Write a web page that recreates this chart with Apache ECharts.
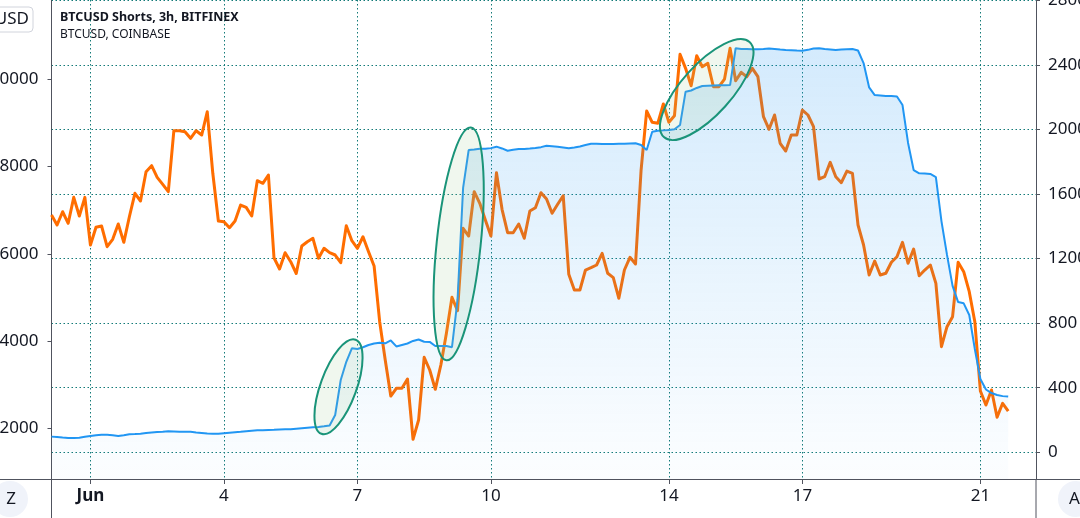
<!DOCTYPE html>
<html>
<head>
<meta charset="utf-8">
<script src="https://cdn.jsdelivr.net/npm/echarts@6/dist/echarts.min.js"></script>
<style>
  html, body { margin: 0; padding: 0; background: #fff; }
  #chart { width: 1080px; height: 518px; }
</style>
</head>
<body>
<div id="chart"></div>
<script>
// 3h bars, first bar 2021-05-31 03:00 UTC
const START_TIME = Date.UTC(2021, 4, 31, 3);
const STEP = 3 * 3600 * 1000;
const BAR_COUNT = 178; // a few empty bars after the last close, like the TradingView right margin

// x ticks
const tickDates = ['2021-06-01 00:00', '2021-06-04 00:00', '2021-06-07 00:00', '2021-06-10 00:00',
                   '2021-06-14 00:00', '2021-06-17 00:00', '2021-06-21 00:00'];
const tickLabels = ['Jun', '4', '7', '10', '14', '17', '21'];

// y ticks
const priceTicks = [32000, 34000, 36000, 38000, 40000];
const shortsTicks = [0, 400, 800, 1200, 1600, 2000, 2400, 2800];

// BTCUSD, COINBASE (3h closes)
const btcPrice = [
  36890, 36660, 36965, 36700, 37295, 36867, 37295, 36202, 36608, 36638,
  36163, 36333, 36683, 36264, 36851, 37387, 37211, 37882, 38020, 37754,
  37593, 37424, 38822, 38822, 38799, 38648, 38822, 38723, 39257, 37846,
  36752, 36736, 36599, 36752, 37119, 37066, 36867, 37676, 37616, 37807,
  35911, 35652, 36026, 35819, 35549, 36179, 36278, 36356, 35897, 36127,
  36026, 35973, 35797, 36645, 36301, 36127, 36392, 36049, 35721, 34444,
  33566, 32741, 32918, 32918, 33131, 31749, 32191, 33628, 33337, 32895,
  33452, 34178, 35003, 34696, 36585, 36408, 37424, 37158, 36775, 36408,
  37859, 37020, 36484, 36484, 36683, 36356, 36981, 37057, 37401, 37256,
  36929, 37135, 37332, 35531, 35171, 35171, 35629, 35682, 35744, 36012,
  35554, 35453, 34981, 35629, 35920, 35767, 37921, 39273, 39014, 38992,
  39434, 39014, 39166, 40573, 40252, 39853, 40541, 40289, 40367, 39830,
  39830, 40007, 40711, 39968, 40160, 40060, 40252, 40060, 39143, 38854,
  39182, 38533, 38357, 38723, 38723, 39296, 39182, 38914, 37715, 37768,
  38098, 37768, 37630, 37898, 37846, 36661, 36202, 35515, 35835, 35515,
  35554, 35806, 35934, 36264, 35783, 36110, 35499, 35629, 35744, 35324,
  33871, 34330, 34559, 35806, 35590, 35132, 34444, 32856, 32535, 32879,
  32253, 32574, 32397
];

// BTCUSD Shorts, 3h, BITFINEX
const btcShorts = [
  97, 94, 91, 89, 89, 90, 96, 101, 106, 109,
  108, 105, 101, 106, 112, 113, 115, 119, 122, 125,
  127, 130, 129, 128, 128, 127, 123, 120, 116, 115,
  115, 118, 121, 124, 127, 131, 134, 136, 137, 138,
  139, 141, 142, 143, 146, 149, 152, 155, 157, 161,
  166, 231, 448, 561, 644, 640, 651, 665, 674, 679,
  675, 693, 656, 665, 674, 690, 699, 685, 684, 659,
  659, 659, 651, 944, 1638, 1873, 1876, 1881, 1881, 1885,
  1894, 1883, 1869, 1875, 1880, 1880, 1882, 1886, 1891, 1900,
  1897, 1894, 1889, 1884, 1889, 1895, 1904, 1912, 1912, 1911,
  1911, 1911, 1912, 1912, 1914, 1915, 1904, 1873, 1987, 1993,
  1995, 1997, 2002, 2028, 2235, 2242, 2258, 2270, 2272, 2273,
  2274, 2275, 2276, 2504, 2500, 2499, 2498, 2498, 2499, 2502,
  2500, 2496, 2493, 2492, 2490, 2489, 2494, 2502, 2504, 2499,
  2496, 2493, 2496, 2498, 2499, 2490, 2412, 2261, 2214, 2211,
  2208, 2208, 2205, 2152, 1917, 1749, 1729, 1727, 1725, 1706,
  1433, 1223, 1031, 931, 923, 851, 640, 454, 389, 367,
  355, 348, 345
];

// highlighted zones: [bar index, shorts value]
const zoneCenters = [[51.6, 406], [73.2, 1291], [117.8, 2248]];

// category labels for every 3h bar
const categories = [];
for (let i = 0; i < BAR_COUNT; i++) {
  categories.push(new Date(START_TIME + i * STEP).toISOString().slice(0, 16).replace('T', ' '));
}

const FONT = 'Noto Sans, sans-serif';
const TEXT = '#131722';
const AXIS = '#50535e';
const LABEL_SIZE = 17;
const GRID_LINE = { color: '#137a78', width: 1, type: [1.5, 2.5] };

const isTick = (idx, value) => tickDates.indexOf(value) >= 0;

const chart = echarts.init(document.getElementById('chart'), null, { renderer: 'canvas' });

chart.setOption({
  animation: false,
  textStyle: { fontFamily: FONT },
  title: [
    { text: 'BTCUSD Shorts, 3h, BITFINEX', left: 60, top: 11, padding: 0,
      textStyle: { fontSize: 12.5, fontWeight: 'bold', color: TEXT, fontFamily: FONT } },
    { text: 'BTCUSD, COINBASE', left: 60, top: 28.5, padding: 0,
      textStyle: { fontSize: 12, fontWeight: 'normal', color: TEXT, fontFamily: FONT } }
  ],
  // labels are allowed to run off the page, as in the screenshot
  grid: { left: 51.5, right: 44, top: 0, bottom: 39, containLabel: false, outerBoundsMode: 'none' },
  xAxis: {
    type: 'category',
    data: categories,
    boundaryGap: false,
    axisLine: { onZero: false, lineStyle: { color: AXIS, width: 1 } },
    axisTick: { interval: isTick, length: 5, lineStyle: { color: AXIS } },
    axisLabel: {
      interval: isTick,
      margin: 9,
      fontSize: LABEL_SIZE,
      color: TEXT,
      fontFamily: FONT,
      formatter: value => {
        const label = tickLabels[tickDates.indexOf(value)];
        return label === 'Jun' ? '{m|Jun}' : label;
      },
      rich: { m: { fontSize: LABEL_SIZE, fontWeight: 'bold', color: TEXT, fontFamily: FONT } }
    },
    splitLine: { show: true, interval: isTick, lineStyle: GRID_LINE }
  },
  yAxis: [
    {
      type: 'value',
      position: 'left',
      min: 30839,
      max: 41818,
      axisLine: { show: true, onZero: false, lineStyle: { color: AXIS } },
      axisTick: { show: true, length: 4, customValues: priceTicks, lineStyle: { color: AXIS } },
      axisLabel: { customValues: priceTicks, margin: 13, fontSize: LABEL_SIZE, color: TEXT, fontFamily: FONT,
                   formatter: v => String(v) },
      splitLine: { show: false }
    },
    {
      type: 'value',
      position: 'right',
      min: -165.6,
      max: 2803,
      axisLine: { show: true, onZero: false, lineStyle: { color: AXIS } },
      axisTick: { show: true, length: 4, customValues: shortsTicks, lineStyle: { color: AXIS } },
      axisLabel: { customValues: shortsTicks, margin: 12, fontSize: LABEL_SIZE, color: TEXT, fontFamily: FONT,
                   formatter: v => String(v) },
      splitLine: { show: true, lineStyle: GRID_LINE }
    }
  ],
  series: [
    {
      name: 'BTCUSD, COINBASE',
      type: 'line',
      yAxisIndex: 0,
      data: btcPrice,
      showSymbol: false,
      lineStyle: { color: '#ff6d00', width: 3, join: 'round' },
      z: 2
    },
    {
      name: 'BTCUSD Shorts, 3h, BITFINEX',
      type: 'line',
      yAxisIndex: 1,
      data: btcShorts,
      showSymbol: false,
      lineStyle: { color: '#2196f3', width: 2 },
      areaStyle: {
        origin: 'start',
        color: new echarts.graphic.LinearGradient(0, 0, 0, 1, [
          { offset: 0, color: 'rgba(33, 150, 243, 0.28)' },
          { offset: 1, color: 'rgba(33, 150, 243, 0.02)' }
        ])
      },
      z: 3
    }
  ]
});

// highlighted zones, placed through the axes
const zoneShapes = [
  { rx: 18, ry: 50, tilt: -20 },
  { rx: 22, ry: 117, tilt: -6 },
  { rx: 25, ry: 64, tilt: -42 }
];

function barToPixel(pos, value) {
  const i0 = Math.floor(pos);
  const p0 = chart.convertToPixel({ xAxisIndex: 0, yAxisIndex: 1 }, [i0, value]);
  const p1 = chart.convertToPixel({ xAxisIndex: 0, yAxisIndex: 1 }, [i0 + 1, value]);
  const f = pos - i0;
  return [p0[0] + (p1[0] - p0[0]) * f, p0[1]];
}

const graphics = zoneCenters.map((c, k) => {
  const p = barToPixel(c[0], c[1]);
  const s = zoneShapes[k];
  return {
    type: 'ellipse',
    x: p[0], y: p[1],
    rotation: s.tilt * Math.PI / 180,
    shape: { cx: 0, cy: 0, rx: s.rx, ry: s.ry },
    style: { fill: 'rgba(155, 202, 142, 0.15)', stroke: '#1a9479', lineWidth: 2 },
    z: 10
  };
});

// TradingView frame bits: pane separators, currency badge, corner buttons
graphics.push(
  { type: 'line', shape: { x1: 0, y1: 479.5, x2: 1080, y2: 479.5 }, style: { stroke: AXIS, lineWidth: 1 }, z: 5 },
  { type: 'line', shape: { x1: 51.5, y1: 479, x2: 51.5, y2: 518 }, style: { stroke: AXIS, lineWidth: 1 }, z: 5 },
  { type: 'line', shape: { x1: 1036, y1: 479, x2: 1036, y2: 518 }, style: { stroke: AXIS, lineWidth: 1 }, z: 5 },
  { type: 'rect', shape: { x: -20, y: 7, width: 53, height: 25, r: 4 },
    style: { fill: '#fff', stroke: '#d1d4dc', lineWidth: 1 }, z: 20 },
  { type: 'text', x: 29, y: 19.5, z: 21,
    style: { text: 'USD', fill: TEXT, font: '17px ' + FONT, align: 'right', verticalAlign: 'middle' } },
  { type: 'circle', shape: { cx: 10, cy: 499, r: 18 }, style: { fill: '#f0f3fa' }, z: 20 },
  { type: 'text', x: 11, y: 499, z: 21,
    style: { text: 'Z', font: '17px ' + FONT, fill: TEXT, align: 'center', verticalAlign: 'middle' } },
  { type: 'circle', shape: { cx: 1076, cy: 499, r: 18 }, style: { fill: '#f0f3fa' }, z: 20 },
  { type: 'text', x: 1069, y: 499, z: 21,
    style: { text: 'A', font: '17px ' + FONT, fill: TEXT, align: 'left', verticalAlign: 'middle' } }
);

chart.setOption({ graphic: graphics });
</script>
</body>
</html>
